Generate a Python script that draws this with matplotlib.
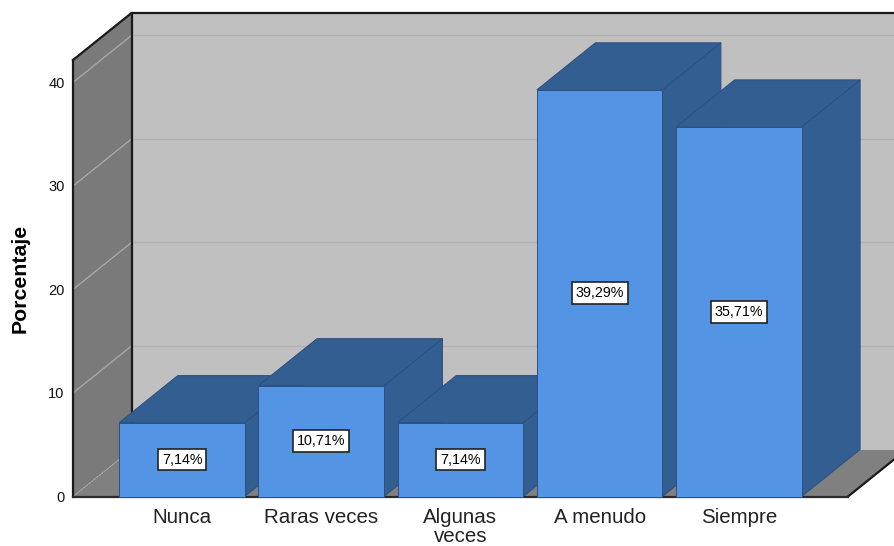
import matplotlib
matplotlib.use("Agg")
import matplotlib.pyplot as plt
from matplotlib.patches import Polygon

plt.rcParams["font.family"] = ["Liberation Sans", "DejaVu Sans"]

# Datos del gráfico
categorias = ["Nunca", "Raras veces", "Algunas\nveces", "A menudo", "Siempre"]
porcentajes = [7.14, 10.71, 7.14, 39.29, 35.71]
marcas_y = [0, 10, 20, 30, 40]

W, H = 895, 546
fig = plt.figure(figsize=(W / 100, H / 100), dpi=100)
# caja frontal del eje: de 73 a 848 en horizontal, de 496.5 a 60 en vertical
ax = fig.add_axes([73 / W, 1 - 496.5 / H, 775 / W, 436.5 / H])
ax.patch.set_visible(False)

x_min, x_max = -0.783, 4.784
y_max = 42.17
ax.set_xlim(x_min, x_max)
ax.set_ylim(0, y_max)

# profundidad del efecto 3D, en unidades de los ejes
DX = 58.5 / 139.2
DY = 47 / 10.35
ANCHO = 125.5 / 139.2

AZUL = "#5394e5"
AZUL_OSCURO = "#335e91"
BORDE = "#2d5080"


def poligono(puntos, color, edge="none", lw=0.0, z=1):
    ax.add_patch(Polygon(puntos, closed=True, facecolor=color, edgecolor=edge,
                         linewidth=lw, zorder=z, clip_on=False, joinstyle="miter"))


# paredes y suelo
poligono([(x_min + DX, DY), (x_max + DX, DY), (x_max + DX, y_max + DY), (x_min + DX, y_max + DY)], "#c0c0c0")
poligono([(x_min, 0), (x_min + DX, DY), (x_min + DX, y_max + DY), (x_min, y_max)], "#7a7a7a")
poligono([(x_min, 0), (x_max, 0), (x_max + DX, DY), (x_min + DX, DY)], "#808080")

# rejilla sobre las paredes
for v in marcas_y[1:]:
    ax.plot([x_min + DX, x_max + DX], [v + DY, v + DY], color="#b1b1b1", lw=1.0, zorder=1.2, clip_on=False)
    ax.plot([x_min, x_min + DX], [v, v + DY], color="#a8a8a8", lw=1.0, zorder=1.2, clip_on=False)
ax.plot([x_min, x_min + DX], [0, DY], color="#a8a8a8", lw=0.8, ls=(0, (2, 1)), zorder=1.2, clip_on=False)

# contornos negros de la caja
contorno = dict(color="#1a1a1a", lw=1.6, zorder=1.5, clip_on=False, solid_capstyle="projecting")
ax.plot([x_min, x_min + DX, x_max + DX], [y_max, y_max + DY, y_max + DY], **contorno)
ax.plot([x_min + DX, x_min + DX], [DY, y_max + DY], **contorno)
ax.plot([x_max, x_max + DX], [0, DY], **contorno)

# barras, de izquierda a derecha para que cada una tape a la anterior
for i, v in enumerate(porcentajes):
    z = 3 + i
    izq = i - ANCHO / 2
    der = i + ANCHO / 2
    poligono([(der, 0), (der + DX, DY), (der + DX, v + DY), (der, v)], AZUL_OSCURO, BORDE, 0.7, z)
    poligono([(izq, v), (der, v), (der + DX, v + DY), (izq + DX, v + DY)], AZUL_OSCURO, BORDE, 0.7, z)
    poligono([(izq, 0), (der, 0), (der, v), (izq, v)], AZUL, BORDE, 0.7, z + 0.1)
    ax.text(i, v / 2, f"{v:.2f}%".replace(".", ","), ha="center", va="center", fontsize=10.3, color="black",
            zorder=z + 0.2, bbox=dict(boxstyle="square,pad=0.27", facecolor="white", edgecolor="#222222", linewidth=1.2))

# ejes
ax.spines["top"].set_visible(False)
ax.spines["right"].set_visible(False)
ax.spines["left"].set_color("#1a1a1a")
ax.spines["left"].set_linewidth(1.6)
ax.spines["bottom"].set_color("#2b2b2b")
ax.spines["bottom"].set_linewidth(1.6)

ax.set_yticks(marcas_y)
ax.set_xticks(range(len(categorias)))
ax.set_xticklabels(categorias, fontsize=14.8, color="#222222", linespacing=1.0)
ax.tick_params(axis="y", length=0, pad=6, labelsize=10.5, labelcolor="#111111")
ax.tick_params(axis="x", length=0, pad=8)
ax.set_ylabel("Porcentaje", fontsize=15.3, fontweight="bold", labelpad=0)
ax.yaxis.set_label_coords((30 - 73) / 775, (496.5 - 278.5) / 436.5)

fig.savefig("out.png", dpi=100, facecolor="white")
